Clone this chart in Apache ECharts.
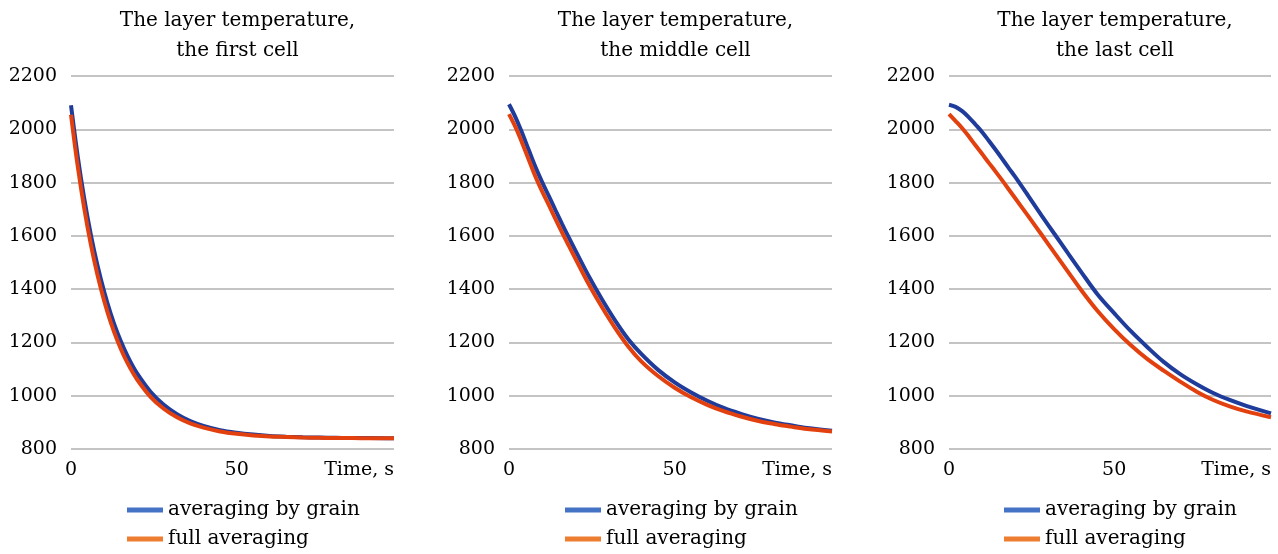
<!DOCTYPE html>
<html>
<head>
<meta charset="utf-8">
<script src="https://cdn.jsdelivr.net/npm/echarts@6/dist/echarts.min.js"></script>
<style>
html,body{margin:0;padding:0;background:#fff;}
#chart{width:1278px;height:554px;}
</style>
</head>
<body>
<div id="chart"></div>
<script>
// ---- data ----
const time = [0,2,4,6,8,10,12,14,16,18,20,24,28,32,36,40,45,50,55,60,65,70,75,80,85,90,97.5];

const titles = [
  'The layer temperature,\nthe first cell',
  'The layer temperature,\nthe middle cell',
  'The layer temperature,\nthe last cell'
];
const seriesNames = ['averaging by grain', 'full averaging'];

// first cell
const firstGrain = [2090,1901,1740,1604,1489,1391,1307,1236,1177,1126,1083,1015,966,931,905,887,871,861,854,849,846,844,843,842,841,841,840];
const firstFull  = [2055,1864,1703,1567,1453,1357,1275,1207,1149,1101,1060,996,951,919,896,880,866,857,851,847,845,843,842,841,841,840,840];
// middle cell
const middleGrain = [2094,2044,1985,1921,1858,1802,1750,1697,1645,1595,1546,1450,1363,1283,1212,1156,1097,1050,1012,980,953,932,914,900,889,879,869];
const middleFull  = [2057,2007,1948,1885,1822,1767,1716,1664,1613,1564,1516,1420,1334,1255,1185,1128,1074,1030,994,965,941,922,906,894,884,875,866];
// last cell
const lastGrain = [2092,2084,2068,2045,2018,1990,1958,1925,1891,1856,1822,1750,1677,1606,1535,1465,1380,1310,1243,1183,1127,1081,1043,1010,984,962,934];
const lastFull  = [2057,2031,2004,1973,1940,1908,1875,1843,1810,1776,1742,1674,1605,1535,1466,1397,1318,1250,1190,1138,1094,1053,1015,984,960,941,919];

const panels = [[firstGrain, firstFull], [middleGrain, middleFull], [lastGrain, lastFull]];
const yTicks = {min: 800, max: 2200, step: 200};
const xTicks = {min: 0, max: 97.5, step: 50};

// ---- styling ----
const FONT = '"DejaVu Serif", "Liberation Serif", serif';
const FS = 19;
const FT = 20;
const lineColors = ['#1f3c9a', '#e2410f'];
const legendColors = ['#4472c4', '#ed7d31'];
const gridBoxes = [
  {left: 71, width: 323},
  {left: 509, width: 323},
  {left: 949, width: 322}
];
const legendLefts = [122, 560, 999];
const legendTops = [495, 524];

const pair = (xs, ys) => xs.map((x, i) => [x, ys[i]]);

const legends = [];
legendLefts.forEach(l => {
  seriesNames.forEach((n, k) => {
    legends.push({
      orient: 'horizontal', left: l, top: legendTops[k],
      itemWidth: 36, itemHeight: 5, itemGap: 10,
      textStyle: {fontFamily: FONT, fontSize: FT, color: '#000'},
      data: [{name: n, icon: 'rect', itemStyle: {color: legendColors[k]}}]
    });
  });
});

const option = {
  backgroundColor: '#fff',
  animation: false,
  textStyle: {fontFamily: FONT, color: '#000'},
  title: titles.map((t, i) => ({
    text: t,
    left: gridBoxes[i].left + gridBoxes[i].width / 2,
    top: 1,
    textAlign: 'center',
    textStyle: {fontFamily: FONT, fontSize: FT, fontWeight: 'normal', color: '#000', lineHeight: 30}
  })),
  grid: gridBoxes.map(g => ({left: g.left, width: g.width, top: 76, height: 373, containLabel: false})),
  xAxis: gridBoxes.map((g, i) => ({
    type: 'value', gridIndex: i,
    min: xTicks.min, max: xTicks.max, interval: xTicks.step,
    axisLine: {show: false}, axisTick: {show: false}, splitLine: {show: false},
    axisLabel: {
      fontFamily: FONT, fontSize: FS, color: '#000', margin: 12,
      showMaxLabel: false,
      formatter: v => (v % 50 === 0 ? String(v) : '')
    },
    name: 'Time, s', nameLocation: 'end', nameGap: 0,
    nameTextStyle: {fontFamily: FONT, fontSize: FS, color: '#000', align: 'right', verticalAlign: 'top', padding: [12, 0, 0, 0]}
  })),
  yAxis: gridBoxes.map((g, i) => ({
    type: 'value', gridIndex: i,
    min: yTicks.min, max: yTicks.max, interval: yTicks.step,
    axisLine: {show: false}, axisTick: {show: false},
    splitLine: {lineStyle: {color: '#c4c4c4', width: 2}},
    axisLabel: {fontFamily: FONT, fontSize: FS, color: '#000', margin: 14, formatter: v => String(v)}
  })),
  legend: legends,
  series: []
};

panels.forEach((p, i) => {
  p.forEach((vals, k) => {
    option.series.push({
      type: 'line', name: seriesNames[k],
      xAxisIndex: i, yAxisIndex: i,
      data: pair(time, vals),
      smooth: 0.35, showSymbol: false, symbol: 'none',
      lineStyle: {color: lineColors[k], width: 4},
      itemStyle: {color: lineColors[k]},
      z: 2 + k
    });
  });
});

const chart = echarts.init(document.getElementById('chart'), null, {renderer: 'canvas'});
chart.setOption(option);
</script>
</body>
</html>
